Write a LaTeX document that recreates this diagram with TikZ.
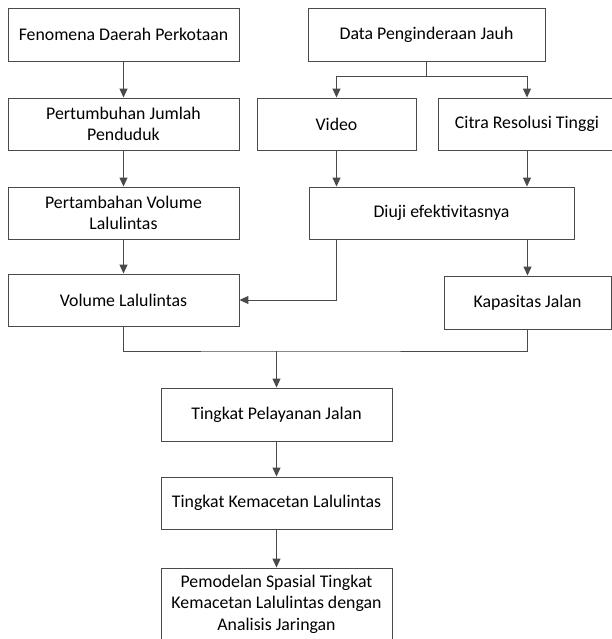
\documentclass[tikz,border=0pt]{standalone}
\usepackage{fontspec}
\setmainfont{Carlito}
\usepackage{tikz}
\usetikzlibrary{positioning,arrows.meta,calc}
\definecolor{garis}{HTML}{4A4A4A}

\tikzset{
  kotak/.style={draw=garis, line width=0.9bp, align=center, inner sep=0pt,
    font=\fontsize{17.8bp}{21.6bp}\selectfont},
  sambung/.style={draw=garis, line width=1bp},
  panah/.style={sambung, -{Triangle[length=9bp,width=8bp]}}
}

\begin{document}
\begin{tikzpicture}[x=1bp,y=-1bp]
      \useasboundingbox (0,0) rectangle (612,639);
      % kolom kiri
      \node[kotak, minimum width=231bp, minimum height=53bp] (fenomena) at (123.5,34.5) {Fenomena Daerah Perkotaan};
      \node[kotak, minimum width=231bp, minimum height=52bp] (tumbuh) at (123.5,124) {Pertumbuhan Jumlah\\Penduduk};
      \node[kotak, minimum width=231bp, minimum height=52bp] (tambah) at (123.5,213) {Pertambahan Volume\\Lalulintas};
      \node[kotak, minimum width=231bp, minimum height=52bp] (volume) at (123.5,300) {Volume Lalulintas};
      % kolom kanan
      \node[kotak, minimum width=237bp, minimum height=53bp] (data) at (426.5,34.5) {Data Penginderaan Jauh};
      \node[kotak, minimum width=159bp, minimum height=52bp] (video) at (336.5,124) {Video};
      \node[kotak, minimum width=178bp, minimum height=52bp] (citra) at (527,124) {Citra Resolusi Tinggi};
      \node[kotak, minimum width=265bp, minimum height=52bp] (diuji) at (441.5,213) {Diuji efektivitasnya};
      \node[kotak, minimum width=167bp, minimum height=53bp] (kapasitas) at (527.5,302.5) {Kapasitas Jalan};
      % bagian bawah
      \node[kotak, minimum width=231bp, minimum height=53bp] (pelayanan) at (276.5,414.5) {Tingkat Pelayanan Jalan};
      \node[kotak, minimum width=231bp, minimum height=52bp] (kemacetan) at (276.5,503) {Tingkat Kemacetan Lalulintas};
      \node[kotak, minimum width=231bp, minimum height=72bp] (pemodelan) at (276.5,604) {Pemodelan Spasial Tingkat\\Kemacetan Lalulintas dengan\\Analisis Jaringan};

      \coordinate (cabang) at (426.5,77);
      \coordinate (gabung) at (276.5,351);

      \draw[panah] (fenomena) -- (tumbuh);
      \draw[panah] (tumbuh) -- (tambah);
      \draw[panah] (tambah) -- (volume);
      \draw[sambung] (data.south) -- (cabang);
      \draw[panah] (cabang) -| (video);
      \draw[panah] (cabang) -| (citra);
      \draw[panah] (video.south) -- (video.south |- diuji.north);
      \draw[panah] (citra.south) -- (citra.south |- diuji.north);
      \draw[panah] (diuji.south -| video) |- (volume.east);
      \draw[panah] (diuji.south -| kapasitas) -- (kapasitas.north);
      \draw[sambung] (volume.south) |- (gabung) -| (kapasitas.south);
      \draw[panah] (gabung) -- (pelayanan);
      \draw[panah] (pelayanan) -- (kemacetan);
      \draw[panah] (kemacetan) -- (pemodelan);
    \end{tikzpicture}
\end{document}
